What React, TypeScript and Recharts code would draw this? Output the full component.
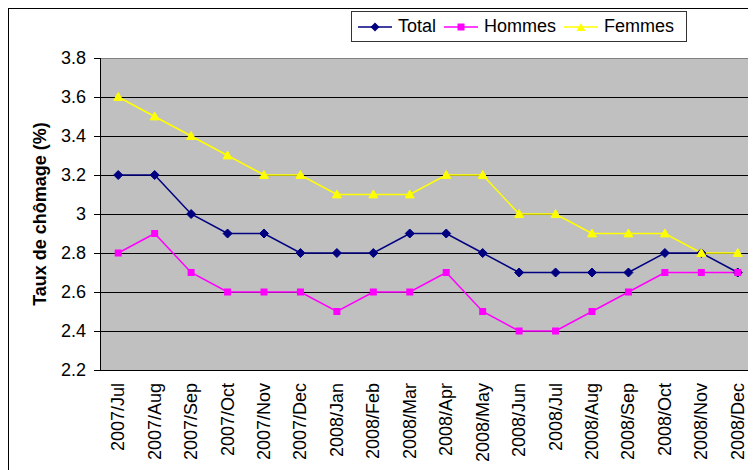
import React from 'react';
import {
  LineChart,
  Line,
  XAxis,
  YAxis,
  CartesianGrid,
  ReferenceLine,
} from 'recharts';

const months = [
  '2007/Jul', '2007/Aug', '2007/Sep', '2007/Oct', '2007/Nov', '2007/Dec',
  '2008/Jan', '2008/Feb', '2008/Mar', '2008/Apr', '2008/May', '2008/Jun',
  '2008/Jul', '2008/Aug', '2008/Sep', '2008/Oct', '2008/Nov', '2008/Dec',
];
const total = [3.2, 3.2, 3.0, 2.9, 2.9, 2.8, 2.8, 2.8, 2.9, 2.9, 2.8, 2.7, 2.7, 2.7, 2.7, 2.8, 2.8, 2.7];
const hommes = [2.8, 2.9, 2.7, 2.6, 2.6, 2.6, 2.5, 2.6, 2.6, 2.7, 2.5, 2.4, 2.4, 2.5, 2.6, 2.7, 2.7, 2.7];
const femmes = [3.6, 3.5, 3.4, 3.3, 3.2, 3.2, 3.1, 3.1, 3.1, 3.2, 3.2, 3.0, 3.0, 2.9, 2.9, 2.9, 2.8, 2.8];
const yTicks = [2.2, 2.4, 2.6, 2.8, 3.0, 3.2, 3.4, 3.6, 3.8];
const boundaryTicks = months.map((_, i) => i).concat([months.length]);
const seriesNames = ['Total', 'Hommes', 'Femmes'];
const yTitle = 'Taux de chômage (%)';

const data = months.map((m, i) => ({
  month: m,
  total: total[i],
  hommes: hommes[i],
  femmes: femmes[i],
}));

const FONT = '"Liberation Sans", Arial, sans-serif';
const NAVY = '#000080';
const MAGENTA = '#FF00FF';
const YELLOW = '#FFFF00';

const diamondPath = (cx: number, cy: number, r: number) =>
  `M${cx},${cy - r}L${cx + r},${cy}L${cx},${cy + r}L${cx - r},${cy}Z`;
const trianglePath = (cx: number, cy: number, r: number) =>
  `M${cx},${cy - r}L${cx + r},${cy + r * 0.75}L${cx - r},${cy + r * 0.75}Z`;

const DiamondDot = (p: any) => {
  if (p.cx == null || p.cy == null) return <g key={p.key} />;
  return <path key={p.key} d={diamondPath(p.cx, p.cy, 4.5)} fill={NAVY} stroke={NAVY} />;
};
const SquareDot = (p: any) => {
  if (p.cx == null || p.cy == null) return <g key={p.key} />;
  return <rect key={p.key} x={p.cx - 3.5} y={p.cy - 3.5} width={7} height={7} fill={MAGENTA} />;
};
const TriangleDot = (p: any) => {
  if (p.cx == null || p.cy == null) return <g key={p.key} />;
  return <path key={p.key} d={trianglePath(p.cx, p.cy, 4.5)} fill={YELLOW} stroke={YELLOW} />;
};

const XTick = (props: any) => {
  const { x, y, payload } = props;
  return (
    <text
      x={x}
      y={y}
      transform={`rotate(-90 ${x} ${y})`}
      textAnchor="end"
      dominantBaseline="central"
      fontSize={18}
      fontFamily={FONT}
      fill="#000"
    >
      {payload.value}
    </text>
  );
};

const fmtY = (v: number) => String(Number(v.toFixed(1)));

const YTitle = (p: any) => {
  const vb = p.viewBox || { x: 0, y: 49, width: 91, height: 312 };
  const cx = vb.x + 31;
  const cy = vb.y + vb.height / 2;
  return (
    <text
      x={cx}
      y={cy}
      transform={`rotate(-90 ${cx} ${cy})`}
      textAnchor="middle"
      dominantBaseline="central"
      fontSize={18}
      fontWeight="bold"
      fontFamily={FONT}
      fill="#000"
    >
      {yTitle}
    </text>
  );
};

const LegendIcon = ({ kind }: { kind: number }) => {
  const color = [NAVY, MAGENTA, YELLOW][kind];
  return (
    <svg width={34} height={12} style={{ display: 'block' }}>
      <line x1={0} y1={6} x2={34} y2={6} stroke={color} strokeWidth={1.5} />
      {kind === 0 && <path d={diamondPath(17, 6, 4.5)} fill={color} />}
      {kind === 1 && <rect x={13.5} y={2.5} width={7} height={7} fill={color} />}
      {kind === 2 && <path d={trianglePath(17, 6.5, 4.5)} fill={color} />}
    </svg>
  );
};

export default function App() {
  return (
    <div
      style={{
        position: 'relative',
        width: 760,
        height: 461,
        borderLeft: '1px solid #000',
        borderTop: '1px solid #000',
        background: '#fff',
        fontFamily: FONT,
        overflow: 'hidden',
      }}
    >
      <LineChart
        width={760}
        height={461}
        data={data}
        margin={{ top: 49, right: 13, left: 0, bottom: 0 }}
      >
        <CartesianGrid
          vertical={false}
          stroke="#000"
          strokeOpacity={1}
          fill="#C0C0C0"
          fillOpacity={1}
          shapeRendering="crispEdges"
        />
        <ReferenceLine
          y={3.8}
          stroke="#808080"
          strokeWidth={1}
          shapeRendering="crispEdges"
          ifOverflow="extendDomain"
        />
        <XAxis
          xAxisId="b"
          type="number"
          domain={[0, months.length]}
          ticks={boundaryTicks}
          tick={false}
          tickSize={6}
          height={0}
          stroke="#000"
          shapeRendering="crispEdges"
          allowDataOverflow
        />
        <XAxis
          dataKey="month"
          scale="band"
          interval={0}
          height={100}
          axisLine={false}
          tickLine={false}
          tickSize={6}
          tickMargin={7}
          tick={<XTick />}
        />
        <YAxis
          domain={[2.2, 3.8]}
          ticks={yTicks}
          interval={0}
          width={91}
          tickSize={6}
          tickMargin={8}
          tickFormatter={fmtY}
          stroke="#000"
          shapeRendering="crispEdges"
          tick={{ fill: '#000', fontSize: 18, fontFamily: FONT }}
          label={<YTitle />}
        />
        <Line
          dataKey="total"
          stroke={NAVY}
          strokeWidth={1.5}
          dot={DiamondDot}
          activeDot={false}
          isAnimationActive={false}
        />
        <Line
          dataKey="hommes"
          stroke={MAGENTA}
          strokeWidth={1.5}
          dot={SquareDot}
          activeDot={false}
          isAnimationActive={false}
        />
        <Line
          dataKey="femmes"
          stroke={YELLOW}
          strokeWidth={1.5}
          dot={TriangleDot}
          activeDot={false}
          isAnimationActive={false}
        />
      </LineChart>
      <div
        style={{
          position: 'absolute',
          left: 342,
          top: 2,
          width: 328,
          height: 29,
          border: '1px solid #333',
          background: '#fff',
          display: 'flex',
          alignItems: 'center',
          paddingLeft: 6,
          boxSizing: 'content-box',
          fontSize: 18,
          color: '#000',
          whiteSpace: 'nowrap',
        }}
      >
        {seriesNames.map((name, i) => (
          <div key={name} style={{ display: 'flex', alignItems: 'center', marginRight: 8 }}>
            <LegendIcon kind={i} />
            <span style={{ marginLeft: 6 }}>{name}</span>
          </div>
        ))}
      </div>
    </div>
  );
}
